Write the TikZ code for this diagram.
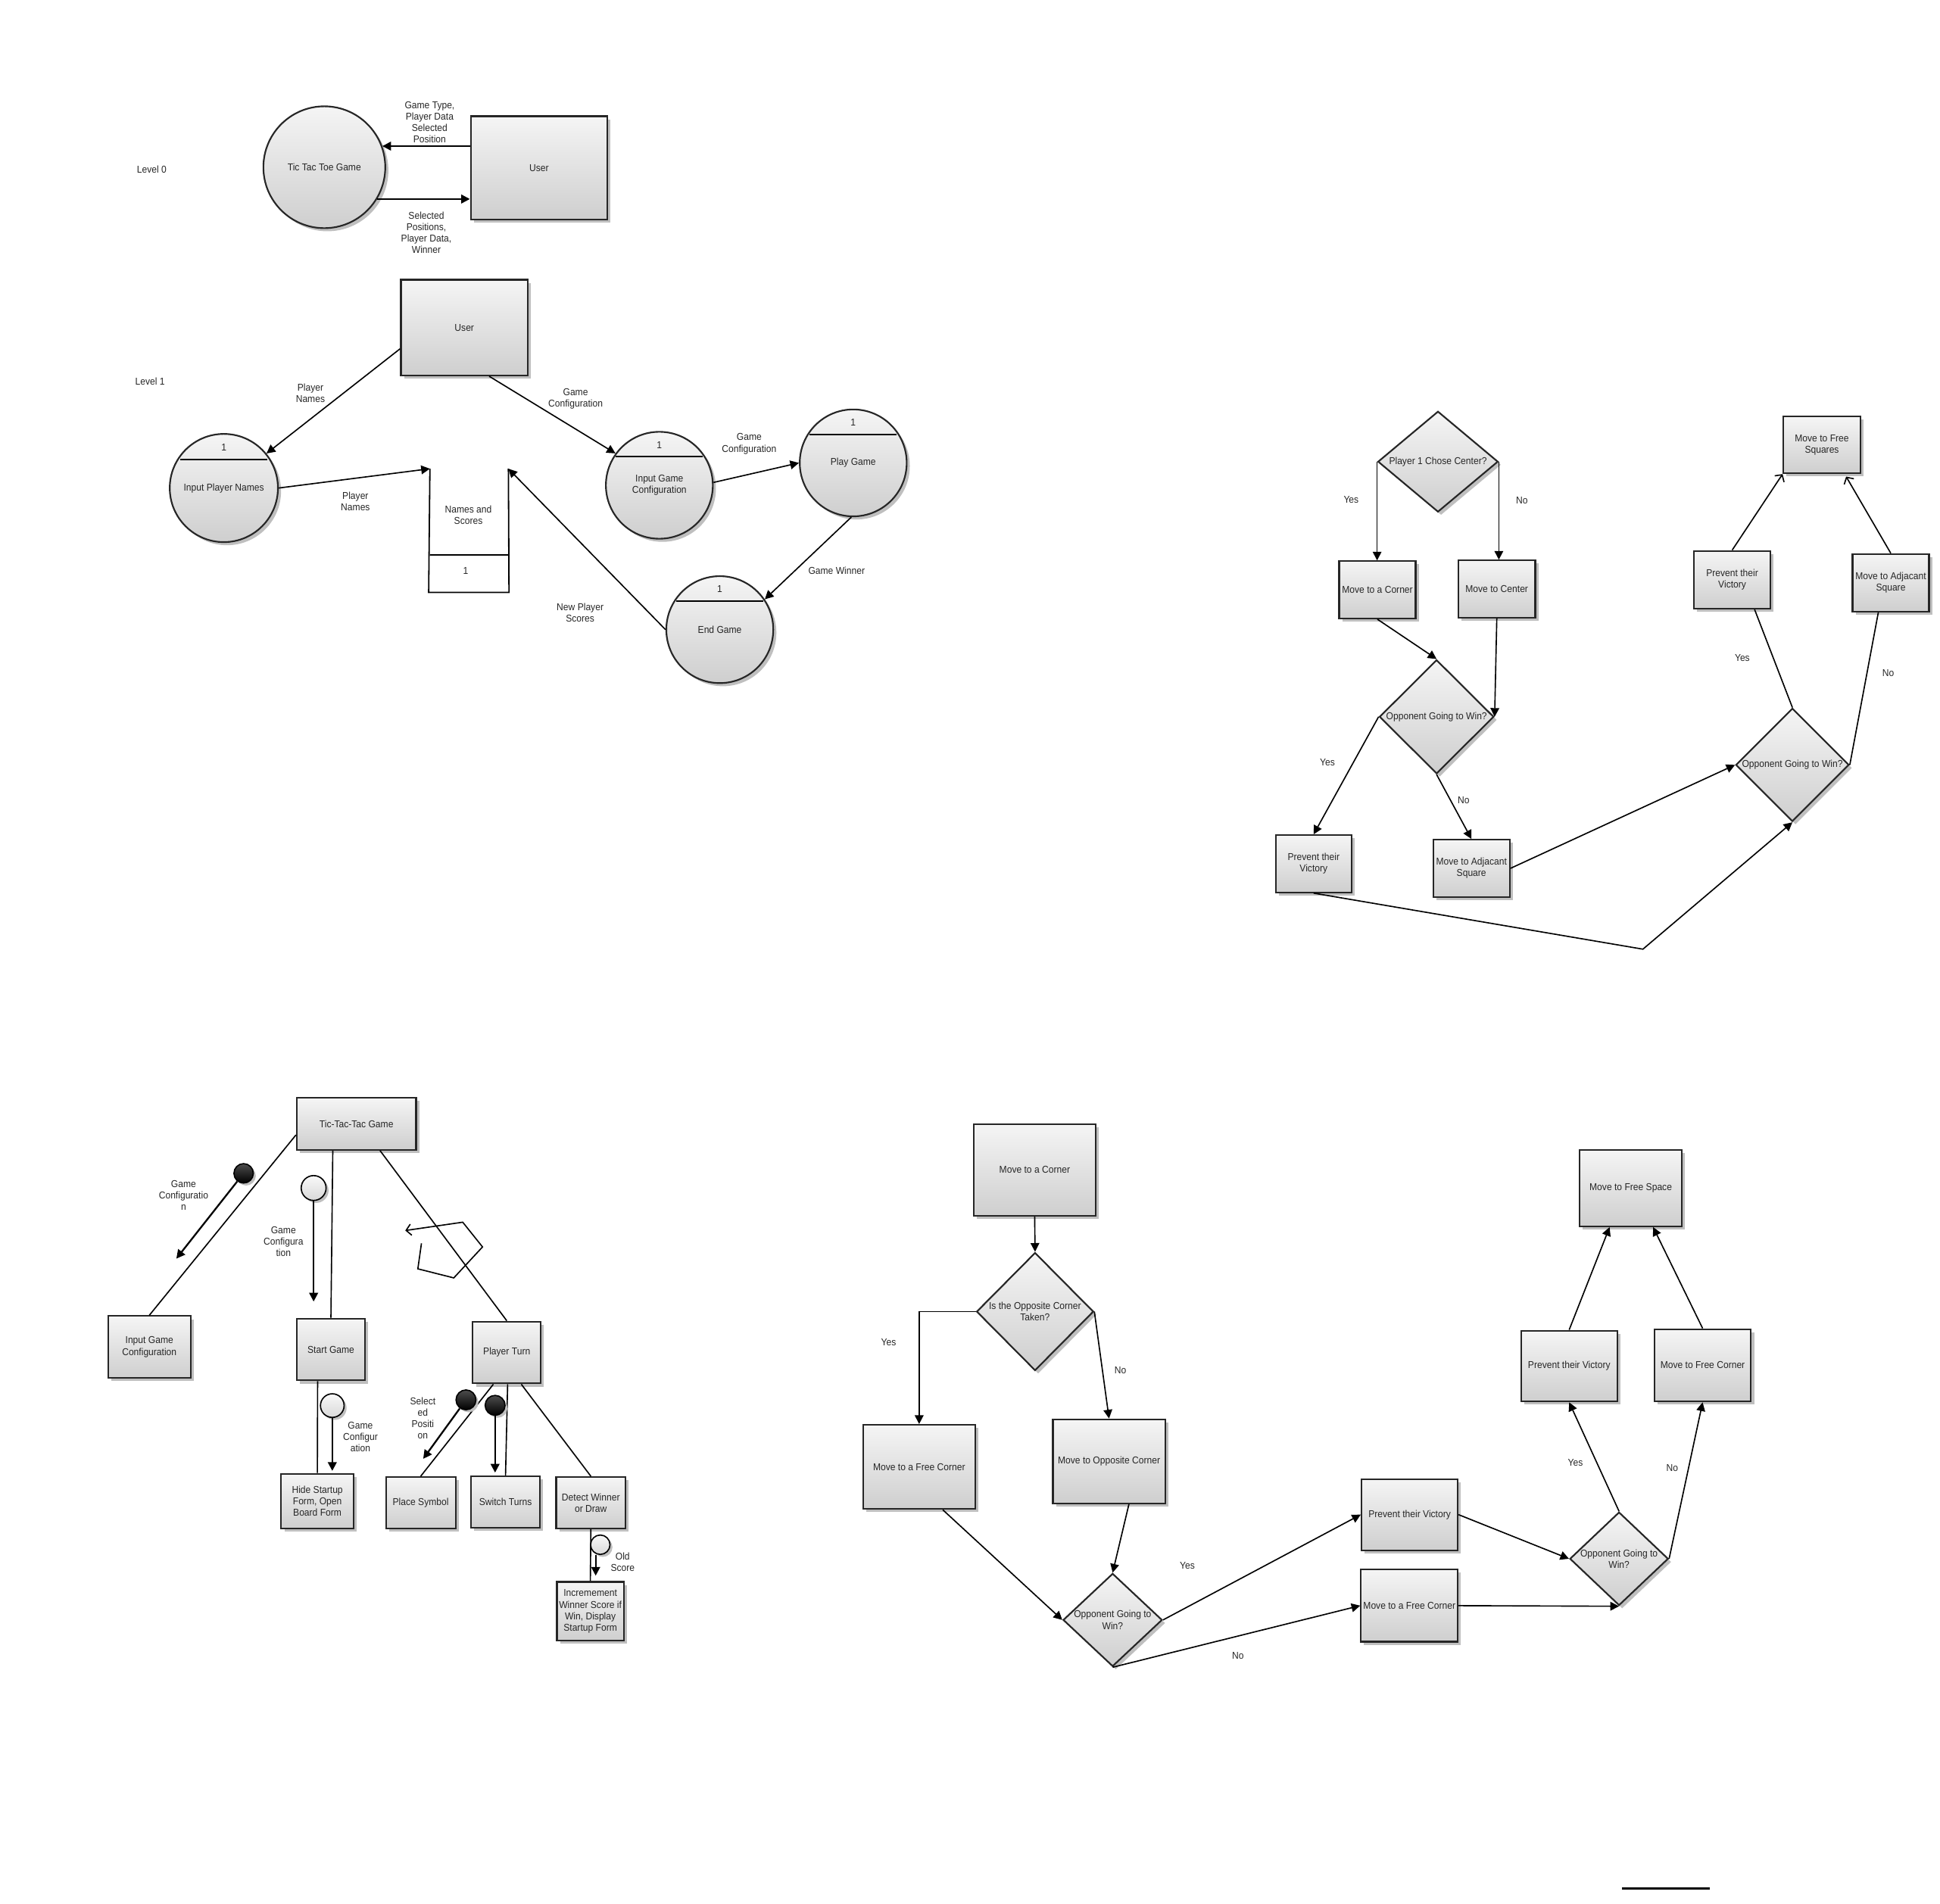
\documentclass[tikz,border=0pt]{standalone}
\usepackage{fontspec}
\setmainfont{Liberation Sans}[FakeStretch=0.92]
\usetikzlibrary{arrows.meta,shapes.geometric,shadows}
\tikzset{>={Triangle[length=7pt,width=7pt]}}
\begin{document}
\begin{tikzpicture}[x=1pt,y=-1pt,
    every node/.style={font=\fontsize{8}{9.2}\selectfont, text=black!85},
    lbl/.style={align=center},
    pbox/.style={draw=black!85, line width=1.3pt, top color=gray!8, bottom color=gray!38, inner sep=0pt, align=center,
        drop shadow={shadow xshift=2.5pt, shadow yshift=-2.5pt, fill=gray!50, opacity=1}},
    pcirc/.style={pbox, circle},
    decision/.style={pbox, diamond},
    dtext/.style={align=center, inner sep=0pt},
    flow/.style={->, line width=1pt},
    dflow/.style={->, line width=1.4pt},
    link/.style={line width=1pt},
    barb/.style={-{Straight Barb[length=4pt,width=9pt]}, line width=1pt},
    couple/.style={circle, draw=black, line width=1pt, inner sep=0pt,
        drop shadow={shadow xshift=2pt, shadow yshift=-2pt, fill=gray!50, opacity=1}},
    dcouple/.style={couple, top color=gray!60!black, bottom color=black},
    lcouple/.style={couple, top color=gray!5, bottom color=gray!30}]
    \useasboundingbox (0,0) rectangle (1560,1530.8);

    % level 0
    \node (lv0) at (122,136) {Level 0};
    \node [pcirc, minimum size=98pt] (ttt) at (260.8,134.5) {Tic Tac Toe Game};
    \node [pbox, minimum width=110pt, minimum height=83pt] (usr0) at (433.5,135) {User};
    \draw [dflow] (ttt.20 -| usr0.west) -- (ttt.20);
    \draw [dflow] (ttt.-31) -- (ttt.-31 -| usr0.west);
    \node [lbl] (in0) at (345.5,98.5) {Game Type,\\Player Data\\Selected\\Position};
    \node [lbl] (out0) at (342.8,187) {Selected\\Positions,\\Player Data,\\Winner};

    % level 1
    \node (lv1) at (120.6,306.5) {Level 1};
    \node [pbox, minimum width=102pt, minimum height=77pt] (usr1) at (373.4,263.5) {User};
    \node [pcirc, minimum size=87pt] (ipn) at (180,392.5) {Input Player Names};
    \node [pcirc, minimum size=86pt] (igc) at (530.2,390.3) {Input Game\\Configuration};
    \node [pcirc, minimum size=86pt] (pg) at (686.1,372.3) {Play Game};
    \node [pcirc, minimum size=86pt] (eg) at (578.8,506.4) {End Game};
    \foreach \p in {ipn,igc,pg,eg}{
        \draw [line width=1.3pt] ([xshift=-35pt,yshift=23pt]\p.center) -- ([xshift=35pt,yshift=23pt]\p.center);
        \node (\p-no) at ([yshift=32.5pt]\p.center) {1};
    }
    \coordinate (stl) at (345.7,377);
    \coordinate (str) at (408.8,377);
    \draw [line width=1.1pt] (stl) -- (344.7,476.5) -- (409.3,476.5) -- (str);
    \draw [line width=1.1pt] (345.7,446.5) -- (409.3,446.5);
    \node [lbl] (stname) at (376.6,414.5) {Names and\\Scores};
    \node (stno) at (374.4,459) {1};
    \draw [flow] ([yshift=-17pt]usr1.west) -- (ipn.39);
    \draw [flow] ([xshift=20pt]usr1.south) -- (igc.144);
    \draw [flow] (ipn.east) -- (stl);
    \draw [flow] (igc.3) -- (pg.west);
    \draw [flow] (pg.-92) -- (eg.34);
    \draw [flow] (eg.west) -- (str);
    \node [lbl] (f1) at (249.6,316) {Player\\Names};
    \node [lbl] (f2) at (462.8,320.5) {Game\\Configuration};
    \node [lbl] (f3) at (285.8,403.5) {Player\\Names};
    \node [lbl] (f4) at (602.4,357) {Game\\Configuration};
    \node (f5) at (672.7,459) {Game Winner};
    \node [lbl] (f6) at (466.5,493) {New Player\\Scores};

    % player 2 moves, player 1 chose first
    \node [decision, minimum width=96.6pt, minimum height=81pt, label={[dtext]center:Player 1 Chose Center?}] (c1) at (1156.3,371.3) {};
    \node [pbox, minimum width=61.5pt, minimum height=46pt] (mc1) at (1107.6,474.4) {Move to a Corner};
    \node [pbox, minimum width=61.8pt, minimum height=46pt] (mctr) at (1203.6,473.8) {Move to Center};
    \node [decision, minimum width=92pt, minimum height=91.6pt, label={[dtext]center:Opponent Going to Win?}] (c2) at (1155.2,576.5) {};
    \node [pbox, minimum width=61pt, minimum height=46pt] (pv1) at (1056.3,694.7) {Prevent their\\Victory};
    \node [pbox, minimum width=61.5pt, minimum height=46pt] (adj1) at (1183.2,698.4) {Move to Adjacant\\Square};
    \node [decision, minimum width=91pt, minimum height=91pt, label={[dtext]center:Opponent Going to Win?}] (c3) at (1441.3,615.2) {};
    \node [pbox, minimum width=61.5pt, minimum height=46.5pt] (pv2) at (1392.9,466.3) {Prevent their\\Victory};
    \node [pbox, minimum width=61.5pt, minimum height=46.2pt] (adj2) at (1520.4,468.7) {Move to Adjacant\\Square};
    \node [pbox, minimum width=61.9pt, minimum height=45.7pt] (fsq) at (1465,357.8) {Move to Free\\Squares};
    \coordinate (bend) at (1321.1,763.4);
    \draw [flow] (c1.west) -- (c1.west |- mc1.north);
    \draw [flow] (c1.east) -- (c1.east |- mctr.north);
    \draw [flow] (mc1.south) -- (c2.north);
    \draw [flow] (mctr.south) -- (c2.east);
    \draw [flow] (c2.west) -- (pv1.north);
    \draw [flow] (c2.south) -- (adj1.north);
    \draw [flow] (adj1.east) -- (c3.west);
    \draw [flow] (pv1.south) -- (bend) -- (c3.south);
    \draw [link] (c3.north) -- ([xshift=18pt]pv2.south);
    \draw [link] (c3.east) -- ([xshift=-10pt]adj2.south);
    \draw [barb] (pv2.north) -- (fsq.south west);
    \draw [barb] (adj2.north) -- ([xshift=19.5pt,yshift=-2pt]fsq.south);
    \node (y1) at (1086.5,401.7) {Yes};
    \node (n1) at (1223.8,402.8) {No};
    \node (y2) at (1067.4,613.2) {Yes};
    \node (n2) at (1176.9,643.5) {No};
    \node (y3) at (1401,529.4) {Yes};
    \node (n3) at (1518.4,541.5) {No};

    % structure chart
    \node [pbox, minimum width=95.9pt, minimum height=41.9pt] (tic) at (286.6,903.8) {Tic-Tac-Tac Game};
    \node [pbox, minimum width=66.5pt, minimum height=49.8pt] (igcb) at (120.1,1083.4) {Input Game\\Configuration};
    \node [pbox, minimum width=54.9pt, minimum height=49.7pt] (sg) at (266.1,1085.4) {Start Game};
    \node [pbox, minimum width=54.6pt, minimum height=49.8pt] (pt) at (407.5,1087.8) {Player Turn};
    \node [pbox, minimum width=58.1pt, minimum height=43.9pt] (hide) at (255.2,1207.3) {Hide Startup\\Form, Open\\Board Form};
    \node [pbox, minimum width=56pt, minimum height=41.3pt] (ps) at (338.3,1208.6) {Place Symbol};
    \node [pbox, minimum width=55.5pt, minimum height=41.3pt] (st) at (406.5,1208) {Switch Turns};
    \node [pbox, minimum width=55.8pt, minimum height=41.3pt] (dw) at (475.1,1208.6) {Detect Winner\\or Draw};
    \node [pbox, minimum width=53.7pt, minimum height=47.4pt] (inc) at (474.7,1296) {Incremement\\Winner Score if\\Win, Display\\Startup Form};
    \draw [link] ([yshift=-9pt]tic.west) -- (igcb.north);
    \draw [link] ([xshift=-19pt]tic.south) -- (sg.north);
    \draw [link] ([xshift=19pt]tic.south) -- (pt.north);
    \draw [link] ([xshift=-10.7pt]sg.south) -- (hide.north);
    \draw [link] ([xshift=-10.8pt]pt.south) -- (ps.north);
    \draw [link] ([xshift=0.7pt]pt.south) -- (st.north);
    \draw [link] ([xshift=11.7pt]pt.south) -- (dw.north);
    \draw [link] (dw.south) -- (inc.north);
    \node [dcouple, minimum size=15.6pt] (bc1) at (195.9,943.7) {};
    \node [lcouple, minimum size=20pt] (lc1) at (252.2,955.5) {};
    \node [lcouple, minimum size=19pt] (lc2) at (267.2,1130.5) {};
    \node [dcouple, minimum size=16pt] (bc2) at (374.7,1125.9) {};
    \node [dcouple, minimum size=16pt] (bc3) at (398.1,1130.3) {};
    \node [lcouple, minimum size=15.6pt] (lc3) at (482.7,1242.4) {};
    \coordinate (cg1) at (141.8,1012.3);
    \coordinate (cg2) at (253.1,1046.8);
    \coordinate (cg3) at (266.1,1183);
    \coordinate (cg4) at (340.3,1173.3);
    \coordinate (cg5) at (399.2,1184.4);
    \coordinate (cg6) at (479,1267.3);
    \draw [dflow] (bc1) -- (cg1);
    \draw [dflow] (lc1.south) -- (lc1.south |- cg2);
    \draw [dflow] (lc2.south) -- (lc2.south |- cg3);
    \draw [dflow] (bc2) -- (cg4);
    \draw [dflow] (bc3.south) -- (bc3.south |- cg5);
    \draw [dflow] (cg6 |- lc3.south) -- (cg6);
    \node [lbl] (d1) at (147.6,961.3) {Game\\Configuratio\\n};
    \node [lbl] (d2) at (227.9,998.5) {Game\\Configura\\tion};
    \node [lbl] (d3) at (289.8,1155.7) {Game\\Configur\\ation};
    \node [lbl] (d4) at (340,1140.5) {Select\\ed\\Positi\\on};
    \node [lbl] (d5) at (500.7,1256.2) {Old\\Score};
    \draw [barb] (338.9,1000) -- (336,1020.5) -- (364.9,1027.8) -- (388,1002.9) -- (372.1,983) -- (325.9,989.7);

    % player 2 moves, player 1 chose corner
    \node [pbox, minimum width=98.4pt, minimum height=73.6pt] (mc2) at (832,940.9) {Move to a Corner};
    \node [decision, minimum width=94.1pt, minimum height=94.9pt, label={[dtext]center:Is the Opposite Corner\\Taken?}] (da) at (832.3,1054.9) {};
    \node [pbox, minimum width=90.2pt, minimum height=67.7pt] (fc) at (739.1,1179.8) {Move to a Free Corner};
    \node [pbox, minimum width=90.2pt, minimum height=67.6pt] (oc) at (891.8,1175.3) {Move to Opposite Corner};
    \node [decision, minimum width=79.7pt, minimum height=74.8pt, label={[dtext]center:Opponent Going to\\Win?}] (db) at (894.7,1302.9) {};
    \node [pbox, minimum width=77.3pt, minimum height=57.3pt] (pv3) at (1133.5,1218.2) {Prevent their Victory};
    \node [pbox, minimum width=77.8pt, minimum height=57.9pt] (fc2) at (1133.3,1291.4) {Move to a Free Corner};
    \node [decision, minimum width=79.2pt, minimum height=75.1pt, label={[dtext]center:Opponent Going to\\Win?}] (dc) at (1301.9,1253.7) {};
    \node [pbox, minimum width=77.3pt, minimum height=57pt] (pv4) at (1261.8,1098.7) {Prevent their Victory};
    \node [pbox, minimum width=77.8pt, minimum height=58.2pt] (mfc) at (1369.1,1098.1) {Move to Free Corner};
    \node [pbox, minimum width=82.1pt, minimum height=61.4pt] (fs2) at (1311.3,955.6) {Move to Free Space};
    \draw [flow] (mc2.south) -- (da.north);
    \draw [flow] (da.west) -| (fc.north);
    \draw [flow] (da.east) -- (oc.north);
    \draw [flow] ([xshift=19pt]fc.south) -- (db.west);
    \draw [flow] ([xshift=16pt]oc.south) -- (db.north);
    \draw [flow] (db.east) -- (pv3.west);
    \draw [flow] (db.south) -- (fc2.west);
    \draw [flow] (pv3.east) -- (dc.west);
    \draw [flow] (fc2.east) -- (dc.south);
    \draw [flow] (dc.north) -- (pv4.south);
    \draw [flow] (dc.east) -- (mfc.south);
    \draw [flow] (pv4.north) -- ([xshift=-17pt]fs2.south);
    \draw [flow] (mfc.north) -- ([xshift=18pt]fs2.south);
    \node (y4) at (714.6,1079.7) {Yes};
    \node (n4) at (900.9,1102) {No};
    \node (y5) at (954.7,1259.5) {Yes};
    \node (n5) at (995.5,1331.4) {No};
    \node (y6) at (1266.8,1176.5) {Yes};
    \node (n6) at (1344.6,1180.6) {No};

    \draw [line width=2pt] (1304.5,1519) -- (1375,1519);
\end{tikzpicture}
\end{document}
